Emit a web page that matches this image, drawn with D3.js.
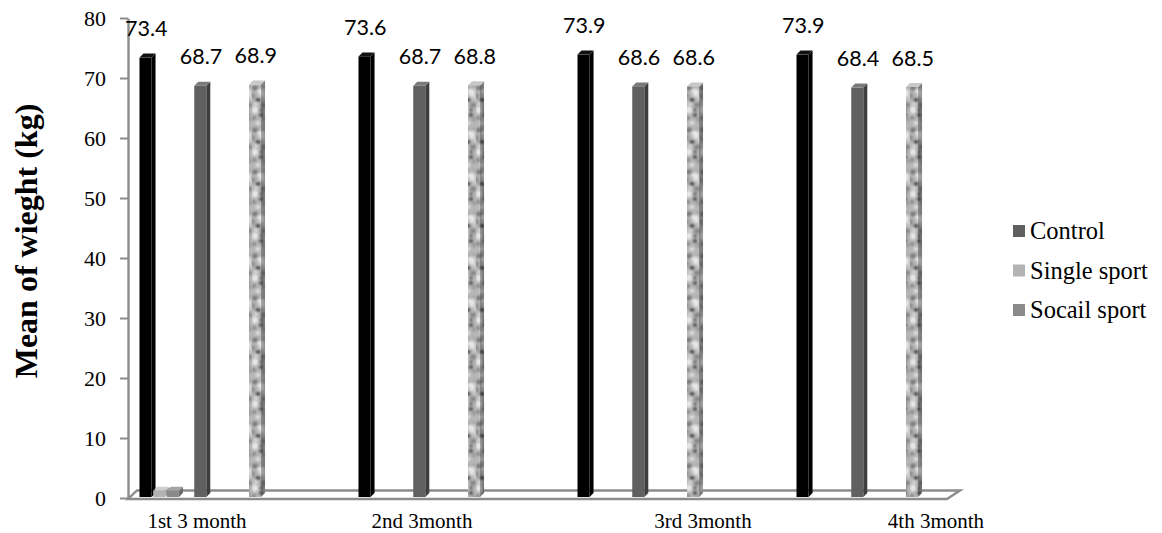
<!DOCTYPE html>
<html><head><meta charset="utf-8">
<script src="https://cdn.jsdelivr.net/npm/d3@7"></script>
<style>body{margin:0;background:#fff} svg{display:block}</style>
</head><body><svg id="c" width="1162" height="533"></svg>
<script>
// ---- data ----
const categories = ["1st 3 month", "2nd 3month", "3rd 3month", "4th 3month"];
const seriesA = [73.4, 73.6, 73.9, 73.9];          // black bars (not in legend)
const singleSport = [1.2, null, null, null];
const socailSport = [1.2, null, null, null];
const control = [68.7, 68.7, 68.6, 68.4];
const seriesB = [68.9, 68.8, 68.6, 68.5];          // textured bars (not in legend)
const yTicks = [0, 10, 20, 30, 40, 50, 60, 70, 80];
const legendNames = ["Control", "Single sport", "Socail sport"];
const yTitle = "Mean of wieght (kg)";

// ---- layout ----
const svg = d3.select("#c");
const y = d3.scaleLinear().domain([0, 80]).range([498, 18]);
const x = d3.scaleBand().domain(categories).range([139.5, 139.5 + 4 * 219]).padding(0);
const slot = d3.scaleBand().domain(d3.range(16)).range([0, x.bandwidth()]).padding(0);
const depth = 4;
const catLabelDx = [57.5, 63.5, 125.5, 139.5];

const series = [
  {values: seriesA, slot: 0, front: "#000", side: "#000", top: "#111", label: true},
  {values: singleSport, slot: 1, front: "#b3b3b3", side: "#999", top: "#cfcfcf", label: false},
  {values: socailSport, slot: 2, front: "#8a8a8a", side: "#6b6b6b", top: "#a4a4a4", label: false},
  {values: control, slot: 4, front: "#606060", side: "#3e3e3e", top: "#7a7a7a", label: true},
  {values: seriesB, slot: 8, front: "url(#tex)", side: "url(#texd)", top: "#c8c8c8", label: true}
];

// texture pattern
const defs = svg.append("defs");
const blobs = [[3,4,3,2.5,"#7a7a7a"],[10,9,3,4,"#e6e6e6"],[6,16,2.5,2,"#4a4a4a"],[11,21,3,2.5,"#858585"],
  [3,26,3,3.5,"#e8e8e8"],[9,31,2.2,2,"#555"],[12,35,2,2.5,"#999"],[1,12,2,3,"#8f8f8f"],
  [7,7,1.8,1.8,"#eeeeee"],[4,20,2,2,"#d8d8d8"],[9,26,1.8,2,"#6d6d6d"],[2,34,2,2,"#858585"],
  [13,14,1.8,2.2,"#d0d0d0"],[6,39,2.5,2,"#e0e0e0"],[12,3,1.8,1.8,"#a8a8a8"]];
const flt = defs.append("filter").attr("id","bl").attr("x","-20%").attr("y","-20%").attr("width","140%").attr("height","140%");
flt.append("feGaussianBlur").attr("stdDeviation", 0.9);
[["tex", 0], ["texd", 0.3]].forEach(([id, dark]) => {
  const p = defs.append("pattern").attr("id", id).attr("patternUnits", "userSpaceOnUse")
    .attr("width", 14).attr("height", 42);
  p.append("rect").attr("width", 14).attr("height", 42).attr("fill", "#b6b6b6");
  const g = p.append("g").attr("filter", "url(#bl)");
  blobs.forEach(b => g.append("ellipse").attr("cx", b[0]).attr("cy", b[1]).attr("rx", b[2]).attr("ry", b[3]).attr("fill", b[4]));
  if (dark) p.append("rect").attr("width", 14).attr("height", 42).attr("fill", "#000").attr("opacity", dark);
});

// floor
const fy = y(0) + 1, by = y(0) - 7.5;
const floorColor = "#8c8c8c";
svg.append("path")
  .attr("d", `M128,${fy}L947,${fy}L960,${by}L137,${by}Z`)
  .attr("fill", "none").attr("stroke", floorColor).attr("stroke-width", 2.4);

// y axis
const axis = svg.append("g").attr("transform", "translate(128,0)")
  .call(d3.axisLeft(y).tickValues(yTicks).tickSize(8).tickSizeOuter(0).tickPadding(14));
axis.select(".domain").attr("stroke", floorColor).attr("stroke-width", 2.4);
axis.selectAll(".tick line").attr("stroke", floorColor).attr("stroke-width", 2);
axis.selectAll(".tick text").attr("font-family", "Liberation Serif, Times New Roman, serif")
  .attr("font-size", 22).attr("fill", "#000").attr("dy", "0.34em");

// bars
const barW = slot.bandwidth() * 0.88;
const gBars = svg.append("g");
categories.forEach((c, i) => {
  series.forEach(s => {
    const v = s.values[i];
    if (v == null) return;
    const x0 = x(c) + slot(s.slot);
    const t = y(v), b = y(0) - 1;
    const g = gBars.append("g");
    g.append("path").attr("d", `M${x0 + barW},${b}L${x0 + barW + depth},${b - depth}L${x0 + barW + depth},${t - depth}L${x0 + barW},${t}Z`).attr("fill", s.side);
    g.append("path").attr("d", `M${x0},${t}L${x0 + depth},${t - depth}L${x0 + barW + depth},${t - depth}L${x0 + barW},${t}Z`).attr("fill", s.top);
    g.append("rect").attr("x", x0).attr("y", t).attr("width", barW).attr("height", b - t).attr("fill", s.front);
    if (s.label) {
      svg.append("text").attr("x", x0 + slot.bandwidth() / 2).attr("y", t - 21.5)
        .attr("text-anchor", "middle").attr("font-family", "Lato, Open Sans, sans-serif")
        .attr("font-size", 21.5).attr("fill", "#000").text(v.toFixed(1));
    }
  });
});

// category labels
categories.forEach((c, i) => {
  svg.append("text").attr("x", x(c) + catLabelDx[i]).attr("y", 528)
    .attr("text-anchor", "middle").attr("font-family", "Liberation Serif, Times New Roman, serif")
    .attr("font-size", 21).attr("fill", "#000").text(c);
});

// y title
svg.append("text").attr("transform", "translate(37,241) rotate(-90)")
  .attr("text-anchor", "middle").attr("font-family", "Liberation Serif, Times New Roman, serif")
  .attr("font-weight", "bold").attr("font-size", 32).attr("fill", "#000").text(yTitle);

// legend
const legendColors = ["#606060", "#b3b3b3", "#8a8a8a"];
legendNames.forEach((n, i) => {
  const ly = 239 + i * 39.5;
  svg.append("rect").attr("x", 1013).attr("y", ly - 14).attr("width", 12).attr("height", 12).attr("fill", legendColors[i]);
  svg.append("text").attr("x", 1030).attr("y", ly).attr("font-family", "Liberation Serif, Times New Roman, serif")
    .attr("font-size", 24.5).attr("fill", "#000").text(n);
});
</script></body></html>
